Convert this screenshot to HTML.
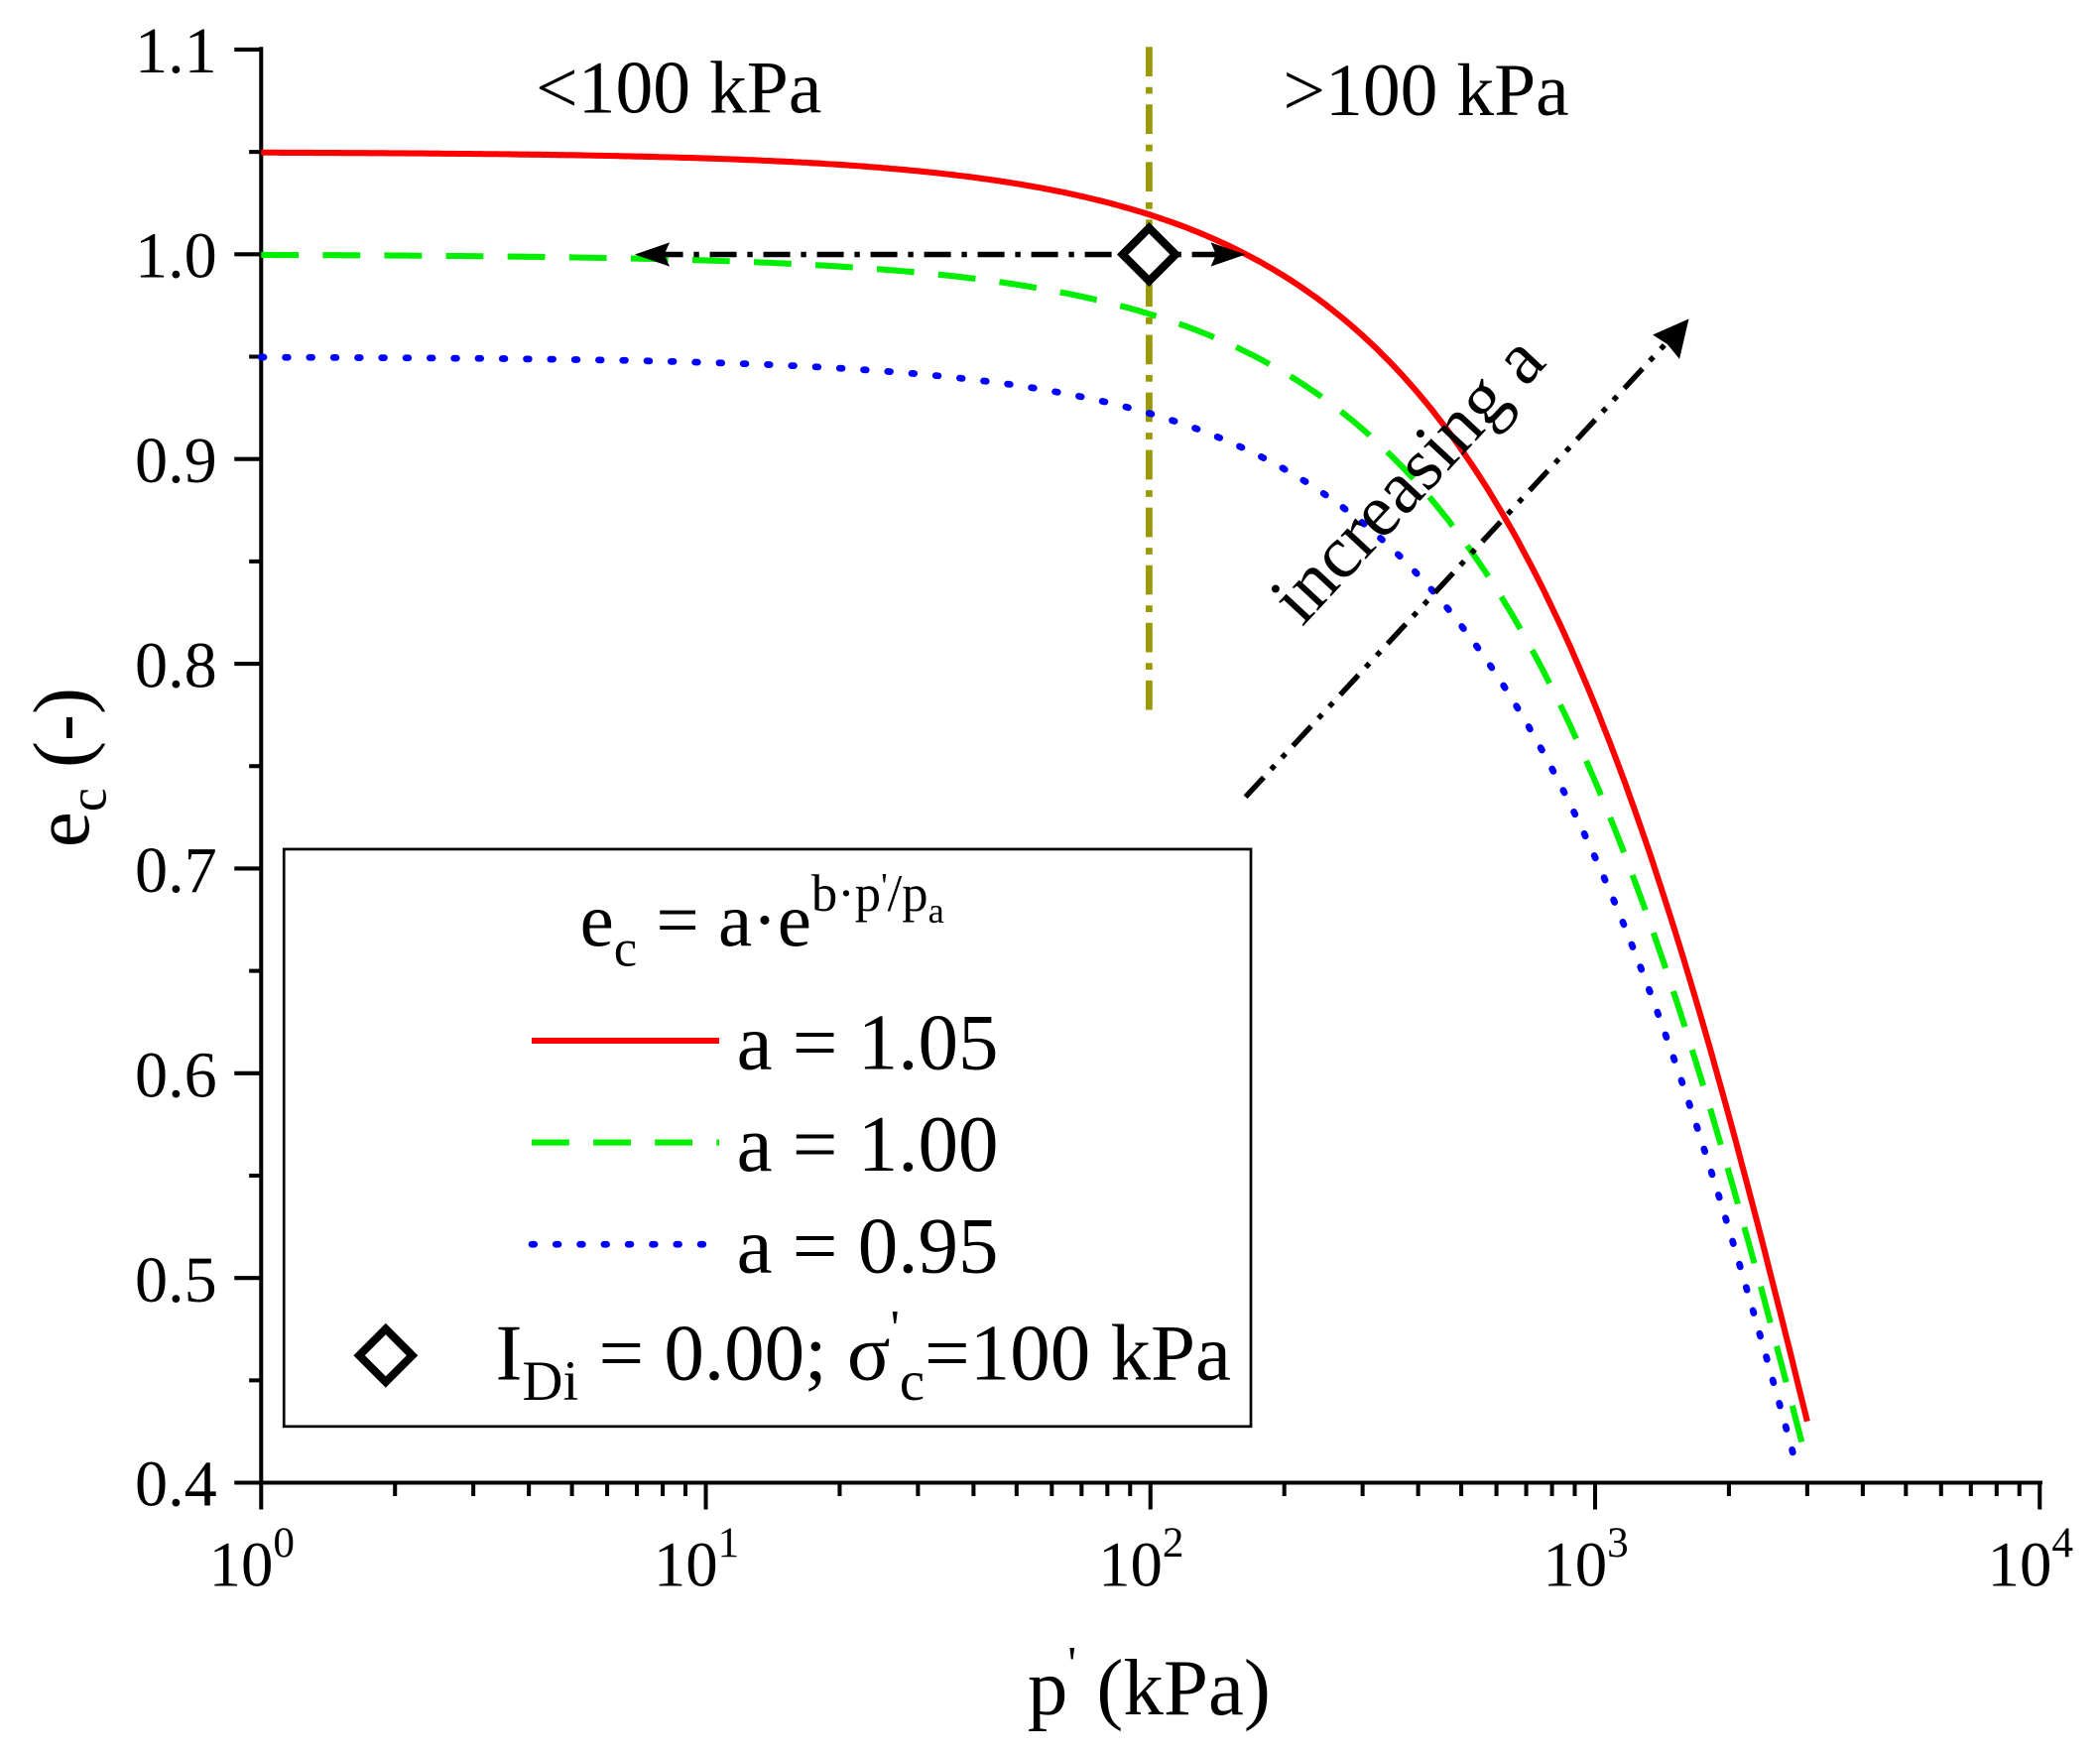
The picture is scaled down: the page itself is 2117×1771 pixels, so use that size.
<!DOCTYPE html>
<html><head><meta charset="utf-8"><style>
html,body{margin:0;padding:0;background:#fff;}
svg{display:block;font-family:"Liberation Serif",serif;}
</style></head><body>
<svg id="s" width="2117" height="1771" viewBox="0 0 1568 1311.8" preserveAspectRatio="none" xmlns="http://www.w3.org/2000/svg">
<g id="ticks" stroke="#000" stroke-width="3"></g>
<line x1="195" y1="35" x2="195" y2="1108" stroke="#000" stroke-width="3"/>
<line x1="194" y1="1107" x2="1525" y2="1107" stroke="#000" stroke-width="3"/>
<g font-size="49" text-anchor="end" fill="#000">
<text x="162" y="54">1.1</text><text x="162" y="207">1.0</text><text x="162" y="360">0.9</text>
<text x="162" y="513">0.8</text><text x="162" y="666">0.7</text><text x="162" y="819">0.6</text>
<text x="162" y="972">0.5</text><text x="162" y="1124">0.4</text>
</g>
<g font-size="48" text-anchor="middle" fill="#000">
<text x="188" y="1184">10<tspan font-size="32" dy="-22">0</tspan></text>
<text x="520" y="1184">10<tspan font-size="32" dy="-22">1</tspan></text>
<text x="852" y="1184">10<tspan font-size="32" dy="-22">2</tspan></text>
<text x="1184" y="1184">10<tspan font-size="32" dy="-22">3</tspan></text>
<text x="1516" y="1184">10<tspan font-size="32" dy="-22">4</tspan></text>
</g>
<text x="858" y="1280" font-size="60" text-anchor="middle">p<tspan font-size="36" dy="-26">'</tspan><tspan dy="26"> (kPa)</tspan></text>
<text transform="translate(66,573) rotate(-90)" font-size="60" text-anchor="middle">e<tspan font-size="40" dy="13">c</tspan><tspan dy="-13"> (-)</tspan></text>
<text x="400" y="84" font-size="56">&lt;100 kPa</text>
<text x="958" y="86" font-size="56">&gt;100 kPa</text>
<line x1="858" y1="35" x2="858" y2="530" stroke="#999900" stroke-width="5" stroke-dasharray="22,8,5,8"/>
<path id="r" fill="none" stroke="#ff0000" stroke-width="4.5"/>
<path id="g" fill="none" stroke="#00ee00" stroke-width="4.5" stroke-dasharray="28,18"/>
<path id="b" fill="none" stroke="#0000ff" stroke-width="5" stroke-dasharray="2,16" stroke-linecap="round"/>
<line x1="490" y1="190" x2="915" y2="190" stroke="#000" stroke-width="4" stroke-dasharray="20,8,4,8"/>
<polygon points="474,190 500,181 496,190 500,199" fill="#000"/>
<polygon points="930,190 904,181 908,190 904,199" fill="#000"/>
<rect x="844" y="176" width="28" height="28" transform="rotate(45 858 190)" fill="#fff" stroke="#000" stroke-width="6"/>
<line x1="930" y1="595" x2="1248" y2="252" stroke="#000" stroke-width="4" stroke-dasharray="20,8,4,8,4,8"/>
<polygon points="1261,238 1254,268 1245,257 1234,250" fill="#000"/>
<text transform="translate(1064,370) rotate(-47)" font-size="56" text-anchor="middle">increasing a</text>
<rect x="212" y="634" width="722" height="431" fill="none" stroke="#000" stroke-width="2"/>
<text x="433" y="706" font-size="57">e<tspan font-size="39" dy="15">c</tspan><tspan dy="-15"> = a·e</tspan><tspan font-size="39" dy="-26">b·p</tspan><tspan font-size="27" dy="-10">'</tspan><tspan font-size="39" dy="10">/p</tspan><tspan font-size="27" dy="9">a</tspan></text>
<line x1="397" y1="777" x2="537" y2="777" stroke="#ff0000" stroke-width="4.5"/>
<line x1="397" y1="853" x2="537" y2="853" stroke="#00ee00" stroke-width="4.5" stroke-dasharray="28,18"/>
<line x1="397" y1="929" x2="537" y2="929" stroke="#0000ff" stroke-width="5" stroke-dasharray="2,16" stroke-linecap="round"/>
<g font-size="60"><text x="550" y="798">a = 1.05</text><text x="550" y="874">a = 1.00</text><text x="550" y="950">a = 0.95</text></g>
<rect x="274" y="998" width="28" height="28" transform="rotate(45 288 1012)" fill="#fff" stroke="#000" stroke-width="6"/>
<text x="370" y="1030" font-size="60">I<tspan font-size="42" dy="15">Di</tspan><tspan dy="-15"> = 0.00; σ</tspan><tspan font-size="38" dy="-26">'</tspan><tspan font-size="42" dy="41">c</tspan><tspan dy="-15">=100 kPa</tspan></text>
<script>
var X=function(p){return 195+332*Math.log10(p)},Y=function(e){return 37+(1.1-e)*1528.6};
var b=Math.log(0.4095)/30;
function mk(id,a,pe){var d="";for(var i=0;i<=400;i++){var lp=i/400*Math.log10(pe);var p=Math.pow(10,lp);d+=(i?"L":"M")+X(p).toFixed(1)+","+Y(a*Math.exp(b*p/100)).toFixed(1);}document.getElementById(id).setAttribute("d",d);}
mk("r",1.05,3000);mk("g",1.0,3000);mk("b",0.95,2850);
var G=document.getElementById("ticks"),NS="http://www.w3.org/2000/svg";
function ln(a,b,c,d){var l=document.createElementNS(NS,"line");l.setAttribute("x1",a);l.setAttribute("y1",b);l.setAttribute("x2",c);l.setAttribute("y2",d);G.appendChild(l);}
for(var k=0;k<=14;k++){var y=37+k*76.43;var L=(k%2==0)?20:9;ln(195-L,y,195,y);}
for(var dd=0;dd<4;dd++)for(var m=1;m<=9;m++){var x=X(m*Math.pow(10,dd));var L=m==1?20:10;ln(x,1107,x,1107+L);}
ln(1523,1107,1523,1127);
</script>
</svg>
</body></html>
